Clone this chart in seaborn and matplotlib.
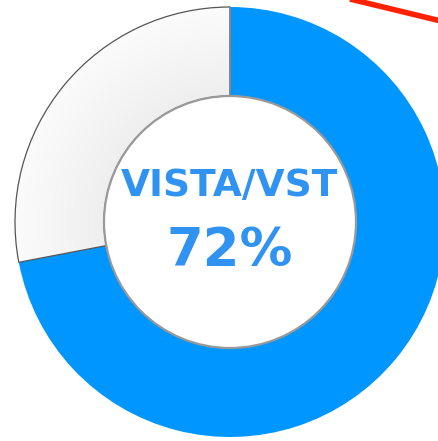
import numpy as np
import matplotlib
matplotlib.use("Agg")
import matplotlib.pyplot as plt
import seaborn as sns

sns.set_theme(style="white")
plt.rcParams['font.family'] = ['DejaVu Sans']

labels = ["VISTA/VST", "Other"]
shares = [72, 28]
colors = ["#0096ff", "#f5f5f5"]
center_label = "VISTA/VST"
center_value = "72%"

W, H = 439, 441
fig = plt.figure(figsize=(W / 100, H / 100), dpi=100)
ax = fig.add_axes([0, 0, 1, 1])

cx, cy = 230, H - 222
r_out, r_in = 215, 126

wedges, _ = ax.pie(
    shares,
    colors=colors,
    startangle=90,
    counterclock=False,
    radius=r_out,
    center=(cx, cy),
    frame=True,
    wedgeprops=dict(width=r_out - r_in, linewidth=0),
)
ax.set_xlim(0, W)
ax.set_ylim(0, H)
ax.set_aspect("equal")
ax.axis("off")

# soft radial shading on the grey part
yy, xx = np.mgrid[0:H, 0:W]
dist = np.hypot(xx - cx, (H - yy) - cy)
shade = np.clip(0.935 + 0.05 * (dist - r_in) / (r_out - r_in), 0.9, 0.99)
img = ax.imshow(np.dstack([shade] * 3), extent=(0, W, 0, H), origin="upper", zorder=1.5)
img.set_clip_path(wedges[1])
wedges[1].set_edgecolor("#555555")
wedges[1].set_linewidth(0.9)
wedges[1].set_facecolor("none")
wedges[1].set_zorder(2)

# divider between the two parts at the top
ax.plot([cx, cx], [cy + r_in, cy + r_out], color="#888888", lw=1.2, zorder=3)

hole = plt.Circle((cx, cy), r_in, facecolor="white", edgecolor="#999999", lw=1.6, zorder=4)
ax.add_patch(hole)

ax.text(cx, H - 186, center_label, ha="center", va="center", fontsize=27,
        fontweight="bold", color="#3093f2", zorder=5)
ax.text(cx, H - 251, center_value, ha="center", va="center", fontsize=38,
        fontweight="bold", color="#3093f2", zorder=5)

# edge of a neighbouring element
ax.plot([350, 445], [H + 1, H - 22], color="#ff2200", lw=4, solid_capstyle="butt", zorder=6)

fig.savefig("out.png", dpi=100)
